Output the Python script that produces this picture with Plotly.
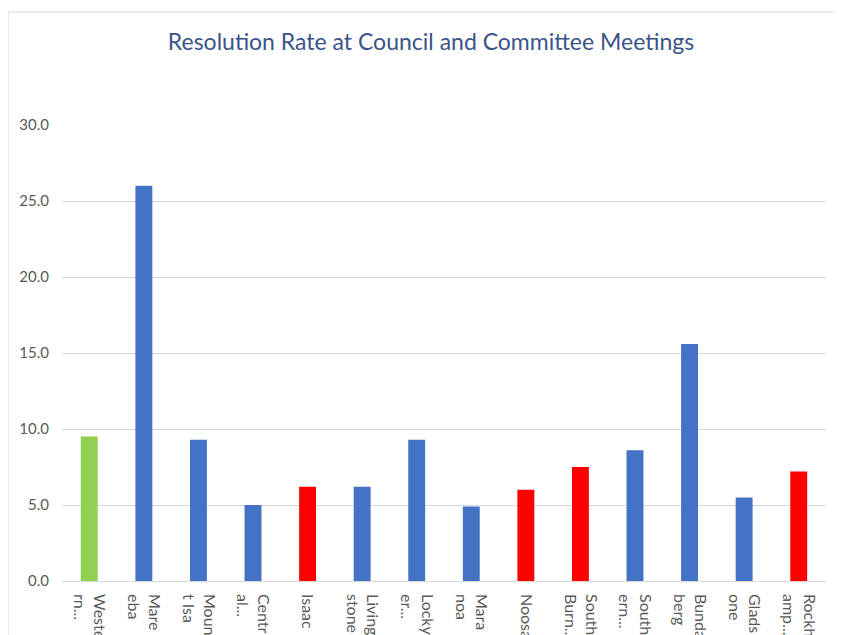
import plotly.graph_objects as go

categories = ["Weste<br>rn...", "Mare<br>eba", "Moun<br>t Isa", "Centr<br>al...", "Isaac",
              "Living<br>stone", "Locky<br>er...", "Mara<br>noa", "Noosa", "South<br>Burn...",
              "South<br>ern...", "Bunda<br>berg", "Glads<br>one", "Rockh<br>amp..."]
values = [9.5, 26.0, 9.3, 5.0, 6.2, 6.2, 9.3, 4.9, 6.0, 7.5, 8.6, 15.6, 5.5, 7.2]
bar_colors = ["#92D050", "#4472C4", "#4472C4", "#4472C4", "#FF0000", "#4472C4", "#4472C4",
              "#4472C4", "#FF0000", "#FF0000", "#4472C4", "#4472C4", "#4472C4", "#FF0000"]
y_ticks = [0, 5, 10, 15, 20, 25, 30]

W, H = 826, 627
ML, MR, MT, MB = 54, 8, 117, 54
pw, ph = W - ML - MR, H - MT - MB

fig = go.Figure(go.Bar(x=list(range(len(categories))), y=values,
                       marker=dict(color=bar_colors, line=dict(width=0)),
                       width=0.31, hoverinfo="y"))

font_family = "Lato, Open Sans, sans-serif"
fig.update_layout(
    width=W, height=H,
    margin=dict(l=ML, r=MR, t=MT, b=MB, autoexpand=False),
    paper_bgcolor="white", plot_bgcolor="white",
    showlegend=False,
    title=dict(text="Resolution Rate at Council and Committee Meetings",
               x=(431 - 8) / W, xanchor="center", y=1 - (42 - 8) / H, yanchor="middle",
               font=dict(family=font_family, size=23, color="#3A5488")),
    font=dict(family=font_family, color="#595959", size=15),
)
fig.update_xaxes(
    tickmode="array", tickvals=list(range(len(categories))), ticktext=categories,
    tickangle=90, range=[-0.5, len(categories) - 0.5],
    showgrid=False, showline=False, zeroline=False, ticks="", ticklabelstandoff=12,
    tickfont=dict(size=16, color="#595959"), automargin=False,
)
fig.update_yaxes(
    range=[0, 30], tickvals=y_ticks, tickformat=".1f",
    showgrid=True, gridcolor="#D9D9D9", gridwidth=1,
    zeroline=True, zerolinecolor="#D9D9D9", zerolinewidth=1,
    showline=False, ticks="", ticklabelstandoff=12,
    tickfont=dict(size=15, color="#595959"), automargin=False,
)
# chart frame (left and top edges visible in the crop)
x_left = (0 - ML) / pw
y_top = 1 + (MT - 4) / ph
fig.add_shape(type="line", xref="paper", yref="paper", x0=x_left, x1=x_left, y0=-1, y1=y_top,
              line=dict(color="#D9D9D9", width=1))
fig.add_shape(type="line", xref="paper", yref="paper", x0=x_left, x1=1.5, y0=y_top, y1=y_top,
              line=dict(color="#D9D9D9", width=1))

fig.write_html("out.html", post_script="document.body.style.marginBottom='0px';")
